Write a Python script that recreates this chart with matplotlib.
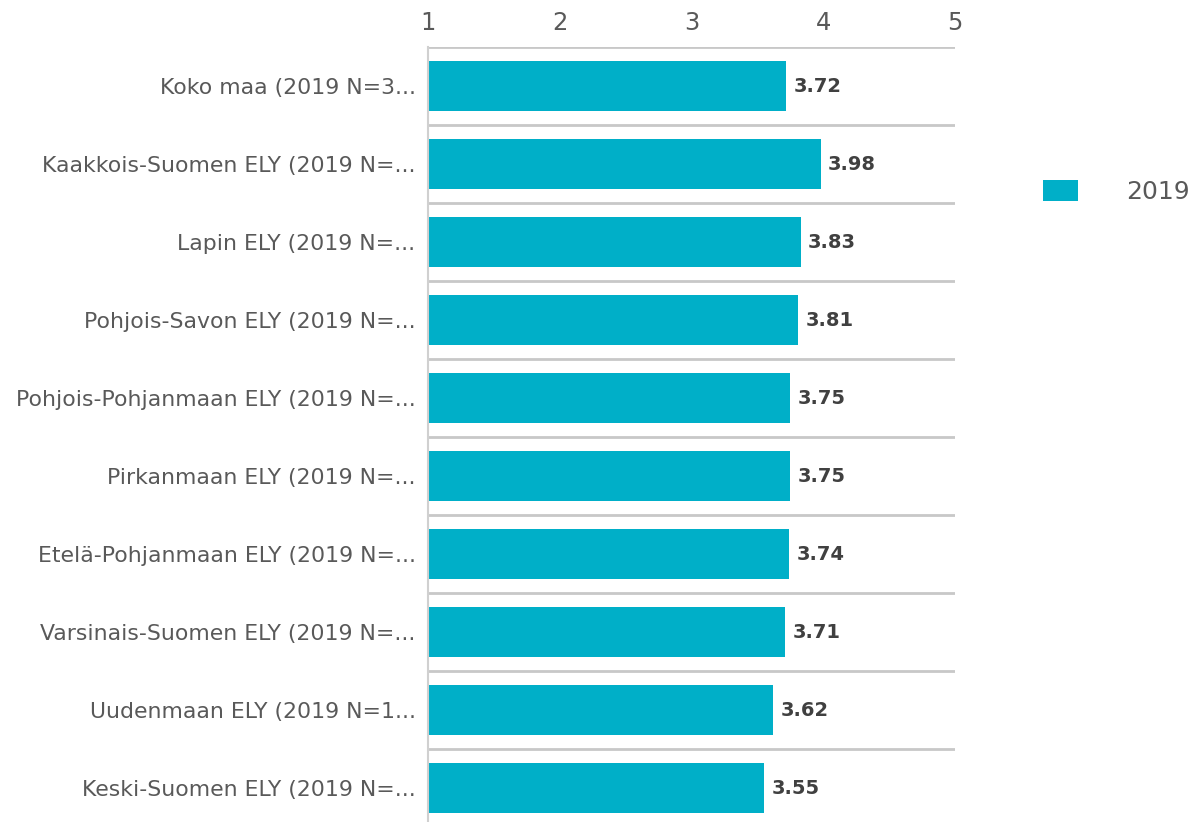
import matplotlib
matplotlib.use("Agg")
import matplotlib.pyplot as plt
from matplotlib.patches import Patch

categories = [
    "Koko maa (2019 N=3...",
    "Kaakkois-Suomen ELY (2019 N=...",
    "Lapin ELY (2019 N=...",
    "Pohjois-Savon ELY (2019 N=...",
    "Pohjois-Pohjanmaan ELY (2019 N=...",
    "Pirkanmaan ELY (2019 N=...",
    "Etelä-Pohjanmaan ELY (2019 N=...",
    "Varsinais-Suomen ELY (2019 N=...",
    "Uudenmaan ELY (2019 N=1...",
    "Keski-Suomen ELY (2019 N=...",
]
values_2019 = [3.72, 3.98, 3.83, 3.81, 3.75, 3.75, 3.74, 3.71, 3.62, 3.55]
xticks = [1, 2, 3, 4, 5]
series_name = "2019"

W, H = 1202, 822
fig = plt.figure(figsize=(W / 100, H / 100), dpi=100)
ax = fig.add_axes([428 / W, 0, (955 - 428) / W, (H - 47) / H])

bar_color = "#00AFC8"
ys = list(range(len(categories)))
ax.barh(ys, values_2019, height=0.64, color=bar_color, zorder=2)

ax.set_xlim(1, 5)
ax.set_ylim(-0.5 + (H - 47) / 78.0, -0.5)

for y, v in zip(ys, values_2019):
    ax.text(v + 0.055, y, f"{v:.2f}", va="center", ha="left",
            fontsize=14, fontweight="bold", color="#404040")

# separators
for b in range(len(categories)):
    ax.axhline(b - 0.5, color="#C8C8C8", lw=2, zorder=1)

ax.xaxis.tick_top()
ax.set_xticks(xticks)
ax.set_xticklabels([str(t) for t in xticks])
ax.tick_params(axis="x", length=0, labelsize=17.5, labelcolor="#595959", pad=9)
ax.set_yticks(ys)
ax.set_yticklabels(categories)
ax.tick_params(axis="y", length=0, labelsize=15.8, labelcolor="#595959", pad=9)

for s in ["top", "right", "bottom"]:
    ax.spines[s].set_visible(False)
ax.spines["left"].set_color("#D0D0D0")
ax.spines["left"].set_linewidth(1.5)

handle = Patch(facecolor=bar_color, edgecolor="none")
fig.legend([handle], [series_name], loc="center left",
           bbox_to_anchor=(1020 / W, 1 - 192 / H), frameon=False,
           fontsize=18, labelcolor="#595959", handlelength=1.4,
           handleheight=0.95, handletextpad=1.95, borderpad=0.4)

fig.savefig("out.png", dpi=100)
